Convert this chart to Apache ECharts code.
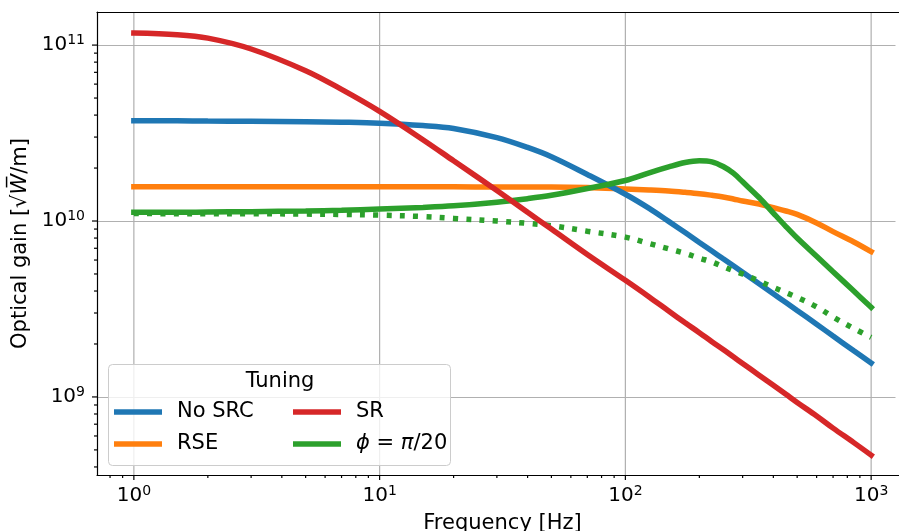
<!DOCTYPE html>
<html>
<head>
<meta charset="utf-8">
<script src="https://cdn.jsdelivr.net/npm/echarts@6/dist/echarts.min.js"></script>
<style>
  html, body { margin: 0; padding: 0; background: #fff; }
  #graph { width: 899px; height: 531px; }
</style>
</head>
<body>
<div id="graph"></div>
<script>
// frequencies [Hz] and optical gain
let freq = [1, 1.5, 2, 3, 5, 7, 10, 15, 20, 30, 40, 50, 70, 100, 125, 150, 175, 200, 225, 250, 275, 300, 350, 400, 450, 500, 600, 700, 850, 1000]
let noSrc = [3.71e10, 3.71e10, 3.70e10, 3.69e10, 3.67e10, 3.645e10, 3.60e10, 3.49e10, 3.36e10, 2.98e10, 2.62e10, 2.32e10, 1.84e10, 1.42e10, 1.18e10, 9.95e9, 8.6e9, 7.55e9, 6.75e9, 6.1e9, 5.57e9, 5.12e9, 4.4e9, 3.86e9, 3.44e9, 3.1e9, 2.59e9, 2.22e9, 1.83e9, 1.56e9]
let rse = [1.565e10, 1.565e10, 1.565e10, 1.565e10, 1.565e10, 1.565e10, 1.565e10, 1.565e10, 1.565e10, 1.56e10, 1.56e10, 1.56e10, 1.55e10, 1.52e10, 1.50e10, 1.48e10, 1.455e10, 1.43e10, 1.40e10, 1.37e10, 1.335e10, 1.30e10, 1.25e10, 1.19e10, 1.14e10, 1.09e10, 9.75e9, 8.7e9, 7.6e9, 6.7e9]
let sr = [1.17e11, 1.145e11, 1.095e11, 9.5e10, 7.15e10, 5.6e10, 4.2e10, 2.9e10, 2.2e10, 1.49e10, 1.12e10, 9.0e9, 6.45e9, 4.6e9, 3.7e9, 3.08e9, 2.64e9, 2.32e9, 2.06e9, 1.86e9, 1.69e9, 1.55e9, 1.33e9, 1.165e9, 1.035e9, 9.3e8, 7.8e8, 6.65e8, 5.5e8, 4.67e8]
let phi = [1.12e10, 1.12e10, 1.125e10, 1.13e10, 1.14e10, 1.15e10, 1.17e10, 1.195e10, 1.22e10, 1.28e10, 1.34e10, 1.40e10, 1.53e10, 1.70e10, 1.88e10, 2.03e10, 2.15e10, 2.20e10, 2.17e10, 2.04e10, 1.87e10, 1.67e10, 1.36e10, 1.11e10, 9.3e9, 8.0e9, 6.3e9, 5.15e9, 4.0e9, 3.23e9]
let phiDotted = [1.105e10, 1.10e10, 1.10e10, 1.10e10, 1.095e10, 1.09e10, 1.08e10, 1.06e10, 1.035e10, 1.0e10, 9.7e9, 9.4e9, 8.75e9, 8.1e9, 7.45e9, 6.95e9, 6.55e9, 6.15e9, 5.85e9, 5.5e9, 5.22e9, 5.0e9, 4.56e9, 4.2e9, 3.92e9, 3.68e9, 3.25e9, 2.85e9, 2.45e9, 2.18e9]

let xTicks = [1, 10, 100, 1000]
let yTicks = [1e9, 1e10, 1e11]
let xRange = [0.70795, 1412.5]
let yRange = [3.6e8, 1.542e11]

const FONT = 'DejaVu Sans'

function pairs (ys) {
  return freq.map(function (f, i) { return [f, ys[i]] })
}

function powLabel (v) {
  let l = Math.log10(v)
  let e = Math.round(l)
  if (Math.abs(l - e) > 1e-6) return ''
  return '{b|10}{s|' + e + '}'
}

let labelRich = {
  b: { fontSize: 20, fontFamily: FONT, color: '#000', lineHeight: 24 },
  s: { fontSize: 14, fontFamily: FONT, color: '#000', lineHeight: 17, verticalAlign: 'top' }
}

function lineSeries (name, ys, color, dotted) {
  return {
    name: name,
    type: 'line',
    data: pairs(ys),
    showSymbol: false,
    smooth: 0.35,
    itemStyle: { color: color },
    lineStyle: {
      color: color,
      width: 5.5,
      type: dotted ? [5, 8.3] : 'solid',
      cap: dotted ? 'butt' : 'square'
    },
    z: 2
  }
}

let legendText = {
  fontSize: 21,
  fontFamily: FONT,
  color: '#000',
  lineHeight: 21,
  padding: [0, 0, 0, 10],
  rich: {
    n: { fontSize: 21, fontFamily: FONT, color: '#000' },
    i: { fontSize: 21, fontFamily: FONT, color: '#000', fontStyle: 'italic' }
  }
}

function legendFormat (name) {
  if (name === 'ϕ = π/20') return '{i|ϕ}{n| = }{i|π}{n|/20}'
  return name
}

let spine = { show: true, onZero: false, lineStyle: { color: '#000', width: 1.2 } }

let option = {
  backgroundColor: '#ffffff',
  animation: false,
  grid: {
    left: 97, top: 12, right: -9, bottom: 56,
    outerBoundsMode: 'none',
    containLabel: false,
    show: false
  },
  xAxis: [{
    type: 'log',
    logBase: 10,
    min: xRange[0],
    max: xRange[1],
    name: 'Frequency [Hz]',
    nameLocation: 'middle',
    nameGap: 38,
    nameTextStyle: { fontSize: 21, fontFamily: FONT, color: '#000' },
    axisLine: spine,
    axisTick: { show: false },
    axisLabel: { formatter: powLabel, margin: 9, rich: labelRich, showMinLabel: true, showMaxLabel: true },
    splitLine: { show: false }
  }, {
    // top spine
    type: 'log',
    position: 'top',
    min: xRange[0],
    max: xRange[1],
    axisLine: spine,
    axisTick: { show: false },
    axisLabel: { show: false },
    splitLine: { show: false }
  }],
  yAxis: {
    type: 'log',
    logBase: 10,
    min: yRange[0],
    max: yRange[1],
    name: '{n|Optical gain [√}{w|W\u0305}{n|/m]}',
    nameLocation: 'middle',
    nameGap: 45,
    nameTextStyle: {
      fontSize: 21, fontFamily: FONT, color: '#000',
      rich: {
        n: { fontSize: 21, fontFamily: FONT, color: '#000' },
        w: { fontSize: 21, fontFamily: FONT, color: '#000', fontStyle: 'italic' }
      }
    },
    axisLine: spine,
    axisTick: { show: false },
    axisLabel: { formatter: powLabel, margin: 12, rich: labelRich },
    splitLine: { show: true, lineStyle: { color: '#b0b0b0', width: 1.2 } }
  },
  legend: [{
    data: ['No SRC', 'RSE'],
    orient: 'vertical',
    left: 114,
    top: 401.5,
    padding: 0,
    itemWidth: 48,
    itemHeight: 5.5,
    itemGap: 11,
    icon: 'rect',
    selectedMode: false,
    formatter: legendFormat,
    textStyle: legendText
  }, {
    data: ['SR', 'ϕ = π/20'],
    orient: 'vertical',
    left: 293,
    top: 401.5,
    padding: 0,
    itemWidth: 48,
    itemHeight: 5.5,
    itemGap: 11,
    icon: 'rect',
    selectedMode: false,
    formatter: legendFormat,
    textStyle: legendText
  }],
  series: [
    lineSeries('RSE', rse, '#ff7f0e'),
    lineSeries('No SRC', noSrc, '#1f77b4'),
    lineSeries('ϕ dotted', phiDotted, '#2ca02c', true),
    lineSeries('ϕ = π/20', phi, '#2ca02c'),
    lineSeries('SR', sr, '#d62728')
  ]
}

let myChart = echarts.init(document.getElementById('graph'))
myChart.setOption(option)

// vertical grid lines, ticks (major + minor) and legend frame, placed through the axes
let marks = []
let x0 = myChart.convertToPixel({ xAxisIndex: 0 }, xRange[0])
let yBottom = myChart.convertToPixel({ yAxisIndex: 0 }, yRange[0])
let yTop = myChart.convertToPixel({ yAxisIndex: 0 }, yRange[1])
function tick (x1, y1, x2, y2, color) {
  marks.push({ type: 'line', silent: true, z: color ? 0 : 1, shape: { x1: x1, y1: y1, x2: x2, y2: y2 }, style: { stroke: color || '#000', lineWidth: 1.2 } })
}
xTicks.forEach(function (v) {
  let px = myChart.convertToPixel({ xAxisIndex: 0 }, v)
  tick(px, yTop, px, yBottom, '#b0b0b0')
})
for (let e = -1; e <= 3; e++) {
  for (let m = 1; m <= 9; m++) {
    let v = m * Math.pow(10, e)
    if (v < xRange[0] || v > xRange[1]) continue
    let px = myChart.convertToPixel({ xAxisIndex: 0 }, v)
    tick(px, yBottom, px, yBottom + (m === 1 ? 5 : 3))
  }
}
for (let e = 8; e <= 11; e++) {
  for (let m = 1; m <= 9; m++) {
    let v = m * Math.pow(10, e)
    if (v < yRange[0] || v > yRange[1]) continue
    let py = myChart.convertToPixel({ yAxisIndex: 0 }, v)
    tick(x0, py, x0 - (m === 1 ? 5 : 3), py)
  }
}
// the figure is cropped on the right: keep the frame edge out of view
marks.push({
  type: 'rect', silent: true, z: 10,
  shape: { x: 895.5, y: yTop + 1, width: 10, height: yBottom - yTop - 2 },
  style: { fill: '#ffffff' }
})
marks.push({
  type: 'rect', silent: true, z: 3,
  shape: { x: 108.5, y: 364.5, width: 342, height: 101, r: 4 },
  style: { fill: 'rgba(255,255,255,0.8)', stroke: '#cccccc', lineWidth: 1 }
})
marks.push({
  type: 'text', silent: true, z: 5,
  x: 280, y: 382,
  style: { text: 'Tuning', fontSize: 21, fontFamily: FONT, fill: '#000', align: 'center', verticalAlign: 'middle' }
})
myChart.setOption({ graphic: marks })
</script>
</body>
</html>
